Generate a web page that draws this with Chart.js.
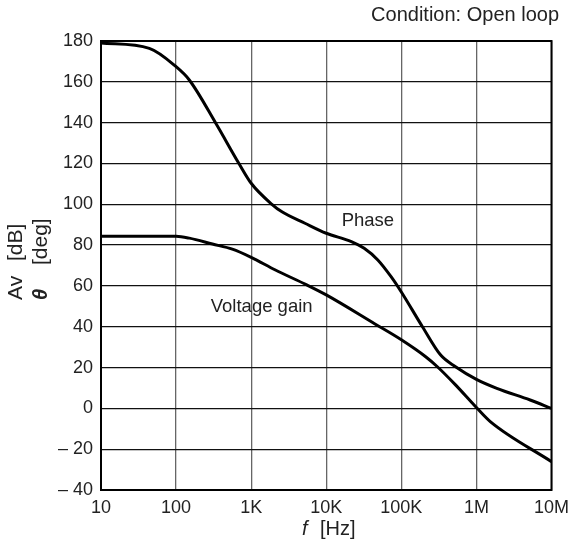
<!DOCTYPE html>
<html>
<head>
<meta charset="utf-8">
<script src="https://cdn.jsdelivr.net/npm/chart.js@4.4.1/dist/chart.umd.min.js"></script>
<style>
  html, body { margin: 0; padding: 0; background: #fff; }
  #wrap { width: 576px; height: 549px; }
</style>
</head>
<body>
<div id="wrap"><canvas id="myChart" width="576" height="549"></canvas></div>
<script>
// frecuencias (Hz) y valores
const phaseFreq = [10, 44, 100, 150, 338, 687, 1000, 1890, 2570, 5200, 10000, 21600, 32000, 48600, 73000, 100000, 191000, 334000, 527000, 1000000, 1870000, 5200000, 10000000];
const phaseDeg = [179, 176.4, 167.4, 160.9, 139.7, 120, 110.3, 100, 96.3, 90.7, 85.8, 81.7, 78.4, 72.7, 64.5, 57, 40, 26.1, 20.4, 14.2, 9.8, 4.1, 0];

const gainFreq = [10, 100, 150, 305, 561, 1000, 2100, 5500, 10000, 44000, 100000, 211000, 302000, 527000, 1000000, 1530000, 10000000];
const gainDb = [84.3, 84.3, 83.4, 80.5, 78, 74, 67.8, 60.5, 55.6, 41.5, 33.6, 25.3, 20.4, 11.5, 0.4, -6.5, -26.1];

const xTicks = [10, 100, 1000, 10000, 100000, 1000000, 10000000];
const xTickLabels = ["10", "100", "1K", "10K", "100K", "1M", "10M"];

const textColor = "#222";
const fontFamily = "'Liberation Sans', Arial, Helvetica, sans-serif";

function toPoints(xs, ys) {
  return xs.map((x, i) => ({ x: x, y: ys[i] }));
}

// textos extra: titulos de ejes, etiquetas de curvas y marco
const extraText = {
  id: "extraText",
  afterDraw(chart) {
    const ctx = chart.ctx;
    const area = chart.chartArea;
    const sx = chart.scales.x;
    const sy = chart.scales.y;

    ctx.save();
    ctx.strokeStyle = "#000";
    ctx.lineWidth = 2;
    ctx.strokeRect(area.left, area.top, area.right - area.left, area.bottom - area.top);

    ctx.fillStyle = textColor;
    ctx.textBaseline = "alphabetic";
    ctx.textAlign = "right";
    ctx.font = "20px " + fontFamily;
    ctx.fillText("Condition: Open loop", 559, 21);

    ctx.textBaseline = "middle";
    ctx.textAlign = "center";
    ctx.font = "18.5px " + fontFamily;
    ctx.fillText("Phase", sx.getPixelForValue(35900), sy.getPixelForValue(91.8));
    ctx.fillText("Voltage gain", sx.getPixelForValue(1380), sy.getPixelForValue(49.6));

    // titulo eje x
    ctx.textAlign = "left";
    ctx.font = "italic 20px " + fontFamily;
    ctx.fillText("f", 302, 529);
    ctx.font = "20px " + fontFamily;
    ctx.fillText("[Hz]", 320, 529);

    // titulo eje y (dos lineas giradas)
    ctx.translate(0, 300);
    ctx.rotate(-Math.PI / 2);
    ctx.font = "21px " + fontFamily;
    ctx.fillText("Av", 0, 16);
    ctx.fillText("[dB]", 39, 16);
    ctx.font = "bold italic 20px " + fontFamily;
    ctx.fillText("θ", 0, 41);
    ctx.font = "21px " + fontFamily;
    ctx.fillText("[deg]", 35, 41);
    ctx.restore();
  },
};

const ctx = document.getElementById("myChart").getContext("2d");

window.myChart = new Chart(ctx, {
  type: "scatter",
  data: {
    datasets: [
      {
        label: "Phase",
        data: toPoints(phaseFreq, phaseDeg),
        showLine: true,
        borderColor: "#000",
        borderWidth: 3,
        pointRadius: 0,
        cubicInterpolationMode: "monotone",
      },
      {
        label: "Voltage gain",
        data: toPoints(gainFreq, gainDb),
        showLine: true,
        borderColor: "#000",
        borderWidth: 3,
        pointRadius: 0,
        cubicInterpolationMode: "monotone",
      },
    ],
  },
  options: {
    responsive: false,
    animation: false,
    devicePixelRatio: 1,
    layout: {
      padding: { top: 41, right: 21, left: 0, bottom: 0 },
    },
    plugins: {
      legend: { display: false },
      tooltip: { enabled: false },
    },
    scales: {
      x: {
        type: "logarithmic",
        min: 10,
        max: 10000000,
        afterBuildTicks: (scale) => {
          scale.ticks = xTicks.map((v) => ({ value: v }));
        },
        afterFit: (scale) => {
          scale.height = 59;
        },
        grid: {
          color: "#666",
          lineWidth: 1.3,
          drawTicks: false,
        },
        border: { display: false },
        ticks: {
          color: textColor,
          padding: 7,
          maxRotation: 0,
          autoSkip: false,
          font: { family: fontFamily, size: 18 },
          callback: (value) => {
            const i = xTicks.indexOf(value);
            return i >= 0 ? xTickLabels[i] : "";
          },
        },
      },
      y: {
        min: -40,
        max: 180,
        afterFit: (scale) => {
          scale.width = 101;
        },
        grid: {
          color: "#111",
          lineWidth: 1.3,
          drawTicks: false,
        },
        border: { display: false },
        ticks: {
          stepSize: 20,
          color: textColor,
          padding: 8,
          font: { family: fontFamily, size: 18 },
          callback: (value) => (value < 0 ? "– " + Math.abs(value) : String(value)),
        },
      },
    },
  },
  plugins: [extraText],
});
</script>
</body>
</html>
